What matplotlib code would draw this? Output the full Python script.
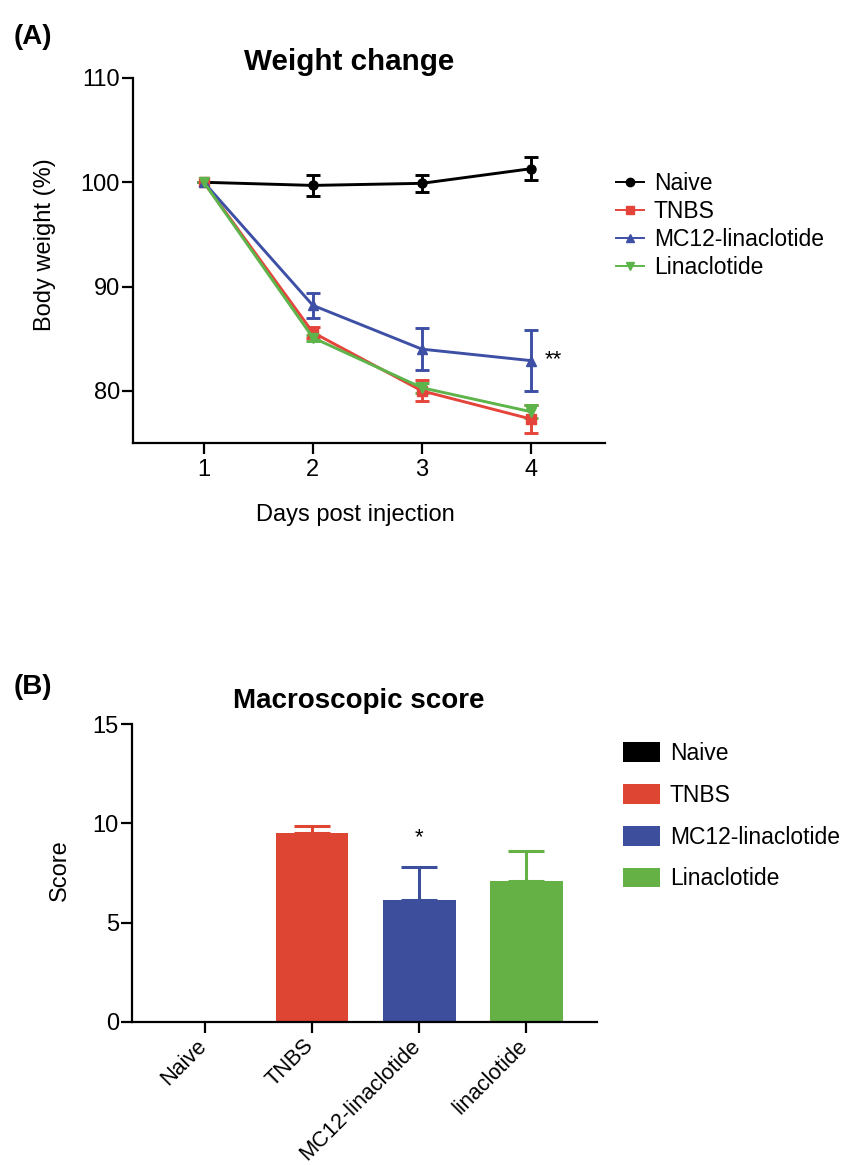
# Weight change (A) and macroscopic score (B) -- two stacked panels
import matplotlib
matplotlib.use("Agg")
import matplotlib.pyplot as plt
import matplotlib.transforms as mtransforms
from matplotlib.patches import Patch
from matplotlib.lines import Line2D

plt.rcParams["font.family"] = ["Liberation Sans", "DejaVu Sans"]

# ---- data --------------------------------------------------------------
days = [1, 2, 3, 4]
groups = ["Naive", "TNBS", "MC12-linaclotide", "Linaclotide"]

naive_mean = [100.0, 99.7, 99.9, 101.3]
naive_sem = [0.0, 1.0, 0.8, 1.1]
tnbs_mean = [100.0, 85.6, 80.0, 77.3]
tnbs_sem = [0.0, 0.5, 1.0, 1.3]
mc12_mean = [100.0, 88.2, 84.0, 82.9]
mc12_sem = [0.0, 1.2, 2.0, 2.9]
lina_mean = [100.0, 85.1, 80.3, 78.0]
lina_sem = [0.0, 0.3, 0.5, 0.6]

score_labels = ["Naive", "TNBS", "MC12-linaclotide", "linaclotide"]
score_mean = [0.0, 9.5, 6.15, 7.1]
score_err = [0.0, 0.35, 1.65, 1.5]

line_colors = ["black", "#E5443A", "#3E50A6", "#5DB44A"]
bar_colors = ["black", "#DF4533", "#3D4F9C", "#66B146"]
markers = ["o", "s", "^", "v"]

W, H = 843, 1165
fig = plt.figure(figsize=(W / 100, H / 100), dpi=100)


def px_box(left, top, right, bottom):
    return [left / W, 1 - bottom / H, (right - left) / W, (bottom - top) / H]


def style_axes(ax):
    for s in ("top", "right"):
        ax.spines[s].set_visible(False)
    for s in ("left", "bottom"):
        ax.spines[s].set_linewidth(1.6)
    ax.tick_params(width=1.6, length=8, labelsize=17, direction="out")
    ax.tick_params(axis="y", pad=1.5)


# ---- (A) weight change ---------------------------------------------------
ax1 = fig.add_axes(px_box(133, 78, 605, 443))
series = [(naive_mean, naive_sem), (tnbs_mean, tnbs_sem),
          (mc12_mean, mc12_sem), (lina_mean, lina_sem)]
for (m, e), c, mk, lab in zip(series, line_colors, markers, groups):
    ax1.errorbar(days, m, yerr=e, color=c, marker=mk, markersize=6.5,
                 linewidth=2.1, elinewidth=2.1, capsize=4.8, capthick=2.1,
                 label=lab)
ax1.set_xlim(0.35, 4.68)
ax1.set_ylim(75, 110)
ax1.set_xticks(days)
ax1.set_yticks([80, 90, 100, 110])
style_axes(ax1)
ax1.text(4.13, 83.0, "**", fontsize=16, ha="left", va="center")

handles1 = [Line2D([0], [0], color=c, marker=mk, markersize=6, linewidth=1.4)
            for c, mk in zip(line_colors, markers)]
ax1.legend(handles1, groups, loc="upper left", frameon=False,
           bbox_to_anchor=(616 / W, 1 - 172 / H), bbox_transform=fig.transFigure,
           borderaxespad=0, borderpad=0, fontsize=16.5, handlelength=1.2,
           handletextpad=0.45, labelspacing=0.22)

fig.text(14 / W, 1 - 44 / H, "(A)", fontsize=20, fontweight="bold", va="baseline")
fig.text(349 / W, 1 - 70 / H, "Weight change", fontsize=21.3,
         fontweight="bold", ha="center", va="baseline")
fig.text(355 / W, 1 - 515 / H, "Days post injection", fontsize=17,
         ha="center", va="center")
fig.text(45 / W, 1 - 245 / H, "Body weight (%)", fontsize=17,
         rotation=90, ha="center", va="center")

# ---- (B) macroscopic score ----------------------------------------------
ax2 = fig.add_axes(px_box(132, 724, 597, 1022))
xpos = list(range(len(score_labels)))
ax2.bar(xpos, score_mean, width=0.68, color=bar_colors)
for x, m, e, c in zip(xpos, score_mean, score_err, bar_colors):
    if e > 0:
        ax2.errorbar(x, m, yerr=[[0], [e]], color=c, elinewidth=2.2,
                     capsize=13, capthick=2.2)
ax2.set_xlim(-0.68, 3.66)
ax2.set_ylim(0, 15)
ax2.set_yticks([0, 5, 10, 15])
ax2.set_xticks(xpos)
ax2.set_xticklabels(score_labels, rotation=45, ha="right",
                    rotation_mode="anchor")
style_axes(ax2)
ax2.tick_params(axis="x", pad=8, labelsize=15.6)
shift = mtransforms.ScaledTranslation(-9 / 100, 9 / 100, fig.dpi_scale_trans)
for lbl in ax2.get_xticklabels():
    lbl.set_transform(lbl.get_transform() + shift)
ax2.text(2, 9.3, "*", fontsize=16, ha="center", va="center")

handles2 = [Patch(facecolor=c) for c in bar_colors]
ax2.legend(handles2, groups, loc="upper left", frameon=False,
           bbox_to_anchor=(623 / W, 1 - 742 / H), bbox_transform=fig.transFigure,
           borderaxespad=0, borderpad=0, fontsize=16.5, handlelength=1.6,
           handleheight=0.95, handletextpad=0.45, labelspacing=0.82)

fig.text(14 / W, 1 - 694 / H, "(B)", fontsize=20, fontweight="bold", va="baseline")
fig.text(359 / W, 1 - 708 / H, "Macroscopic score", fontsize=20,
         fontweight="bold", ha="center", va="baseline")
fig.text(60 / W, 1 - 870 / H, "Score", fontsize=17,
         rotation=90, ha="center", va="center")

plt.savefig("out.png", dpi=100)
